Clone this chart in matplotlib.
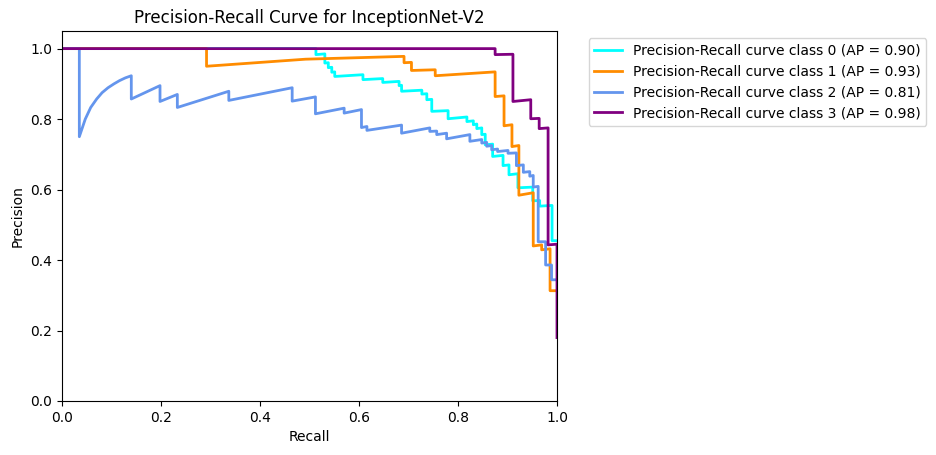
import matplotlib
matplotlib.use("Agg")
import matplotlib.pyplot as plt

title = "Precision-Recall Curve for InceptionNet-V2"
colors = ["aqua", "darkorange", "cornflowerblue", "purple"]
ap_values = [0.90, 0.93, 0.81, 0.98]

recall_0 = [0.0, 0.513, 0.513, 0.531, 0.531, 0.538, 0.538, 0.545, 0.545, 0.551, 0.551,
            0.608, 0.608, 0.648, 0.648, 0.681, 0.681, 0.686, 0.686, 0.727, 0.727, 0.737,
            0.737, 0.747, 0.747, 0.780, 0.780, 0.818, 0.818, 0.831, 0.831, 0.838, 0.838,
            0.848, 0.848, 0.855, 0.855, 0.870, 0.870, 0.891, 0.891, 0.903, 0.903, 0.921,
            0.921, 0.951, 0.951, 0.965, 0.965, 0.990, 0.990, 1.0]
precision_0 = [1.0, 1.0, 0.983, 0.985, 0.959, 0.960, 0.946, 0.947, 0.933, 0.934, 0.921,
               0.926, 0.912, 0.915, 0.904, 0.907, 0.895, 0.896, 0.879, 0.882, 0.871, 0.872,
               0.855, 0.856, 0.822, 0.824, 0.801, 0.806, 0.793, 0.795, 0.784, 0.786, 0.773,
               0.775, 0.756, 0.757, 0.727, 0.729, 0.694, 0.697, 0.668, 0.670, 0.642, 0.645,
               0.605, 0.607, 0.568, 0.569, 0.553, 0.555, 0.455, 0.455]

recall_1 = [0.0, 0.292, 0.292, 0.492, 0.691, 0.691, 0.706, 0.706, 0.754, 0.754, 0.875,
            0.875, 0.893, 0.893, 0.909, 0.909, 0.923, 0.923, 0.952, 0.952, 0.969, 0.969,
            0.986, 0.986, 1.0]
precision_1 = [1.0, 1.0, 0.950, 0.970, 0.978, 0.960, 0.961, 0.938, 0.940, 0.923, 0.934,
               0.864, 0.866, 0.781, 0.784, 0.722, 0.725, 0.584, 0.591, 0.440, 0.443, 0.429,
               0.432, 0.313, 0.313]

recall_2 = [0.0, 0.035, 0.035, 0.047, 0.058, 0.070, 0.081, 0.093, 0.105, 0.116, 0.128,
            0.140, 0.140, 0.198, 0.198, 0.233, 0.233, 0.337, 0.337, 0.465, 0.465, 0.512,
            0.512, 0.570, 0.570, 0.605, 0.605, 0.616, 0.616, 0.686, 0.686, 0.743, 0.743,
            0.757, 0.757, 0.777, 0.777, 0.824, 0.824, 0.848, 0.848, 0.858, 0.858, 0.868,
            0.868, 0.880, 0.880, 0.901, 0.901, 0.918, 0.918, 0.932, 0.932, 0.945, 0.945,
            0.952, 0.952, 0.962, 0.962, 0.977, 0.977, 0.989, 0.989, 1.0]
precision_2 = [1.0, 1.0, 0.750, 0.800, 0.833, 0.857, 0.875, 0.889, 0.900, 0.909, 0.917,
               0.923, 0.857, 0.895, 0.850, 0.870, 0.833, 0.879, 0.853, 0.889, 0.851, 0.863,
               0.815, 0.831, 0.817, 0.827, 0.776, 0.779, 0.768, 0.783, 0.760, 0.775, 0.765,
               0.766, 0.756, 0.760, 0.744, 0.756, 0.737, 0.742, 0.732, 0.734, 0.723, 0.725,
               0.713, 0.715, 0.708, 0.711, 0.703, 0.704, 0.668, 0.670, 0.649, 0.651, 0.638,
               0.640, 0.607, 0.609, 0.452, 0.452, 0.386, 0.386, 0.344, 0.344]

recall_3 = [0.0, 0.875, 0.875, 0.911, 0.911, 0.947, 0.947, 0.964, 0.964, 0.982, 0.982,
            1.0, 1.0]
precision_3 = [1.0, 1.0, 0.983, 0.984, 0.850, 0.855, 0.801, 0.802, 0.773, 0.775, 0.443,
               0.445, 0.18]

recalls = [recall_0, recall_1, recall_2, recall_3]
precisions = [precision_0, precision_1, precision_2, precision_3]

fig = plt.figure(figsize=(9.36, 4.55), dpi=100)
ax = fig.add_axes([62 / 936, 54 / 455, 495 / 936, 370 / 455])

for i, (r, p) in enumerate(zip(recalls, precisions)):
    ax.plot(r, p, color=colors[i], lw=2,
            label=f"Precision-Recall curve class {i} (AP = {ap_values[i]:.2f})")

ax.set_xlim(0.0, 1.0)
ax.set_ylim(0.0, 1.05)
ax.set_xlabel("Recall")
ax.set_ylabel("Precision")
ax.set_title(title)
ax.legend(loc="upper left", bbox_to_anchor=(1.05, 1))

fig.savefig("out.png", dpi=100)
